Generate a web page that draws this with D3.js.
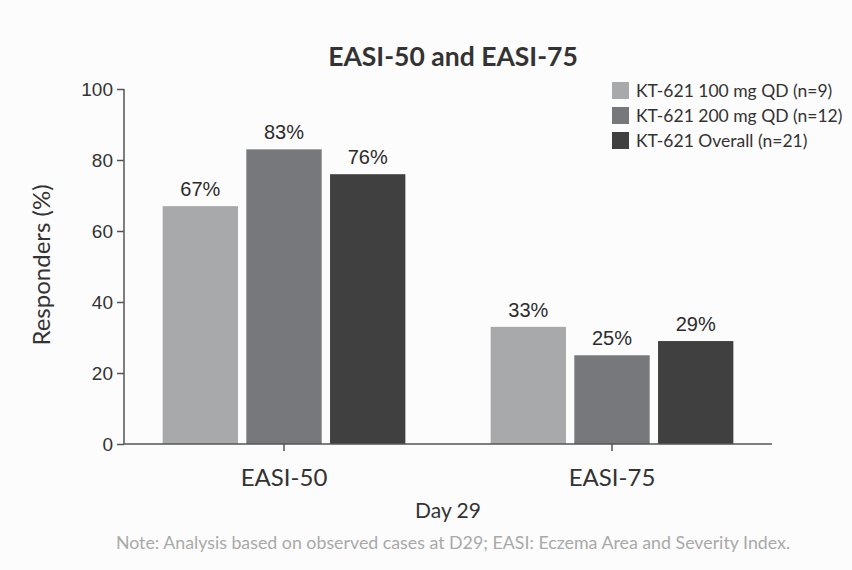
<!DOCTYPE html>
<html>
<head>
<meta charset="utf-8">
<script src="https://cdn.jsdelivr.net/npm/d3@7"></script>
<style>
  body { margin: 0; background: #fcfcfc; }
  svg { display: block; }
</style>
</head>
<body>
<div id="chart"></div>
<script>
// data
let endpoints = ['EASI-50', 'EASI-75']
let groups = ['KT-621 100 mg QD (n=9)', 'KT-621 200 mg QD (n=12)', 'KT-621 Overall (n=21)']
let dose100 = [67, 33]
let dose200 = [83, 25]
let overall = [76, 29]
let yTicks = [0, 20, 40, 60, 80, 100]

let seriesValues = [dose100, dose200, overall]
let colors = ['#a8a9ab', '#77787b', '#404041']

let width = 852
let height = 570

let svg = d3.select('#chart')
  .append('svg')
  .attr('width', width)
  .attr('height', height)

svg.append('rect')
  .attr('width', width)
  .attr('height', height)
  .attr('fill', '#fcfcfc')

let xPositionScale = d3.scaleBand()
  .domain(endpoints)
  .range([120, 776])
  .paddingInner(0.26)
  .paddingOuter(0.13)

let groupScale = d3.scaleBand()
  .domain(groups)
  .range([0, xPositionScale.bandwidth()])
  .paddingInner(0.1)

let yPositionScale = d3.scaleLinear()
  .domain([0, 100])
  .range([444, 89])

// bars
let rows = endpoints.map((e, i) => ({
  key: e,
  values: groups.map((g, j) => ({ group: g, value: seriesValues[j][i], idx: j }))
}))

let gGroups = svg.selectAll('.grp')
  .data(rows)
  .enter()
  .append('g')
  .attr('class', 'grp')
  .attr('transform', d => `translate(${xPositionScale(d.key)},0)`)

gGroups.selectAll('rect')
  .data(d => d.values)
  .enter()
  .append('rect')
  .attr('x', d => groupScale(d.group))
  .attr('width', groupScale.bandwidth())
  .attr('y', d => yPositionScale(d.value))
  .attr('height', d => yPositionScale(0) - yPositionScale(d.value))
  .attr('fill', d => colors[d.idx])

gGroups.selectAll('.val')
  .data(d => d.values)
  .enter()
  .append('text')
  .attr('class', 'val')
  .attr('x', d => groupScale(d.group) + groupScale.bandwidth() / 2)
  .attr('y', d => yPositionScale(d.value) - 10)
  .attr('text-anchor', 'middle')
  .attr('font-family', 'Liberation Sans, Arial, sans-serif')
  .attr('font-size', 20)
  .attr('fill', '#2b2b2b')
  .text(d => d.value + '%')

// y axis
let yAxis = d3.axisLeft(yPositionScale).tickValues(yTicks).tickSize(7).tickPadding(4)
let yG = svg.append('g')
  .attr('transform', 'translate(124,0)')
  .call(yAxis)
yG.select('.domain').remove()
yG.append('line')
  .attr('x1', 0).attr('x2', 0)
  .attr('y1', yPositionScale(100)).attr('y2', yPositionScale(0))
  .attr('stroke', '#555').attr('stroke-width', 1.5)
yG.selectAll('.tick line').attr('stroke', '#555').attr('stroke-width', 1.5)
yG.selectAll('.tick text')
  .attr('font-family', 'Liberation Sans, Arial, sans-serif')
  .attr('font-size', 19)
  .attr('fill', '#333')

// x axis
let xAxis = d3.axisBottom(xPositionScale).tickSize(7).tickPadding(18)
let xG = svg.append('g')
  .attr('transform', `translate(0,${yPositionScale(0)})`)
  .call(xAxis)
xG.select('.domain').remove()
xG.append('line')
  .attr('x1', 124).attr('x2', 772)
  .attr('stroke', '#555').attr('stroke-width', 1.5)
xG.selectAll('.tick line').attr('stroke', '#555').attr('stroke-width', 1.5)
xG.selectAll('.tick text')
  .attr('font-family', 'Lato, sans-serif')
  .attr('font-size', 24)
  .attr('fill', '#333')

// titles
svg.append('text')
  .attr('x', 453)
  .attr('y', 66)
  .attr('text-anchor', 'middle')
  .attr('font-family', 'Lato, sans-serif')
  .attr('font-weight', 'bold')
  .attr('font-size', 26.5)
  .attr('fill', '#333')
  .text('EASI-50 and EASI-75')

svg.append('text')
  .attr('transform', 'translate(50,265) rotate(-90)')
  .attr('text-anchor', 'middle')
  .attr('font-family', 'Lato, sans-serif')
  .attr('font-size', 24)
  .attr('fill', '#333')
  .text('Responders (%)')

svg.append('text')
  .attr('x', 448)
  .attr('y', 518)
  .attr('text-anchor', 'middle')
  .attr('font-family', 'Lato, sans-serif')
  .attr('font-size', 21)
  .attr('fill', '#333')
  .text('Day 29')

svg.append('text')
  .attr('x', 453)
  .attr('y', 549)
  .attr('text-anchor', 'middle')
  .attr('font-family', 'Lato, sans-serif')
  .attr('font-size', 17.8)
  .attr('fill', '#a9a9a9')
  .text('Note: Analysis based on observed cases at D29; EASI: Eczema Area and Severity Index.')

// legend
let legend = svg.selectAll('.legend')
  .data(groups)
  .enter()
  .append('g')
  .attr('class', 'legend')
  .attr('transform', (d, i) => `translate(612,${82 + i * 25})`)

legend.append('rect')
  .attr('width', 17)
  .attr('height', 17)
  .attr('fill', (d, i) => colors[i])

legend.append('text')
  .attr('x', 24)
  .attr('y', 15)
  .attr('font-family', 'Lato, sans-serif')
  .attr('font-size', 17.5)
  .attr('fill', '#333')
  .text(d => d)
</script>
</body>
</html>
